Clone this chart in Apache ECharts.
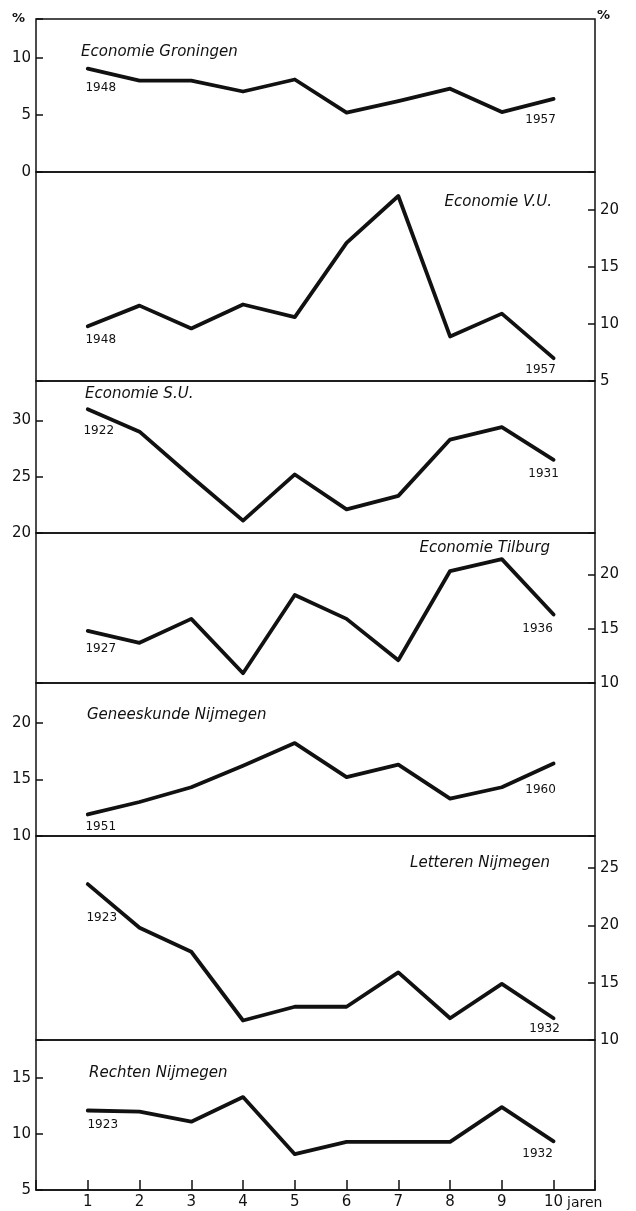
<!DOCTYPE html>
<html>
<head>
<meta charset="utf-8">
<title>Studieduur per faculteit</title>
<script src="https://cdn.jsdelivr.net/npm/echarts@6/dist/echarts.min.js"></script>
<style>
  html, body { margin: 0; padding: 0; background: #fff; }
  #chart { width: 636px; height: 1211px; }
</style>
</head>
<body>
<div id="chart"></div>
<script>
// x-as: jaren
const jaren = [1, 2, 3, 4, 5, 6, 7, 8, 9, 10]

const groningen = [9.05, 8.0, 8.0, 7.05, 8.1, 5.2, 6.2, 7.3, 5.25, 6.4]
const vu = [9.8, 11.6, 9.6, 11.7, 10.6, 17.1, 21.2, 8.9, 10.9, 7.0]
const su = [31.0, 29.0, 25.0, 21.1, 25.2, 22.1, 23.3, 28.3, 29.4, 26.5]
const tilburg = [14.8, 13.7, 15.9, 10.9, 18.1, 15.9, 12.1, 20.3, 21.4, 16.3]
const geneeskunde = [11.9, 13.0, 14.3, 16.2, 18.2, 15.2, 16.3, 13.3, 14.3, 16.4]
const letteren = [23.6, 19.8, 17.7, 11.7, 12.9, 12.9, 15.9, 11.9, 14.9, 11.9]
const rechten = [12.1, 12.0, 11.1, 13.3, 8.2, 9.3, 9.3, 9.3, 12.4, 9.35]

const namen = ['Economie Groningen', 'Economie V.U.', 'Economie S.U.', 'Economie Tilburg', 'Geneeskunde Nijmegen', 'Letteren Nijmegen', 'Rechten Nijmegen']
const beginjaar = ['1948', '1948', '1922', '1927', '1951', '1923', '1923']
const eindjaar = ['1957', '1957', '1931', '1936', '1960', '1932', '1932']

// y-as bereik per panel
const yMin = [0, 5, 20, 10, 10, 10, 5]
const yMax = [13.4, 23.3, 33.5, 23.8, 23.5, 27.8, 18.4]

const reeksen = [groningen, vu, su, tilburg, geneeskunde, letteren, rechten]

// layout
const panelTop = [19, 172, 381, 533, 683, 836, 1040, 1190]
const asZijde = ['left', 'right', 'left', 'right', 'left', 'right', 'left']
const titelPos = [
  { left: 81, top: 45 },
  { right: 84, top: 195 },
  { left: 85, top: 387 },
  { right: 86, top: 541 },
  { left: 87, top: 708 },
  { right: 86, top: 856 },
  { left: 89, top: 1066 },
]
const beginOffset = [[13, 7], [13, 2], [11, 10], [13, 6], [13, 0], [14, 22], [15, 2]]
const eindOffset = [[-13, 9], [-13, 0], [-10, 2], [-16, 2], [-13, 14], [-9, -1], [-16, 1]]

const font = 'DejaVu Sans'
const zwart = '#111'

const chart = echarts.init(document.getElementById('chart'))

const grids = [], xAxes = [], yAxes = [], series = [], titles = []

reeksen.forEach((waarden, p) => {
  const laatste = p === reeksen.length - 1
  grids.push({
    left: 36,
    right: 41,
    top: panelTop[p],
    height: panelTop[p + 1] - panelTop[p],
    show: true,
    borderColor: zwart,
    borderWidth: 1.5,
    outerBoundsMode: 'none',
  })
  xAxes.push({
    gridIndex: p,
    type: 'value',
    min: 0,
    max: 10.8,
    interval: 1,
    axisLine: { show: laatste, onZero: false, lineStyle: { color: zwart, width: 1.5 } },
    axisTick: { show: laatste, inside: true, length: 10, lineStyle: { color: zwart, width: 1.5 } },
    axisLabel: {
      show: laatste,
      margin: 5,
      fontSize: 15,
      fontFamily: font,
      color: zwart,
      formatter: v => (v >= 1 && v <= 10 && v % 1 === 0 ? String(v) : ''),
    },
    splitLine: { show: false },
    name: laatste ? 'jaren' : '',
    nameLocation: 'end',
    nameGap: -28,
    nameTextStyle: { fontSize: 14, fontFamily: font, color: zwart, align: 'left', verticalAlign: 'top', padding: [6, 0, 0, 0] },
  })
  yAxes.push({
    gridIndex: p,
    type: 'value',
    position: asZijde[p],
    min: yMin[p],
    max: yMax[p],
    interval: 5,
    axisLine: { show: false, onZero: false },
    axisTick: { show: true, inside: true, length: 7, lineStyle: { color: zwart, width: 1.5 } },
    axisLabel: {
      margin: 5,
      fontSize: 15,
      fontFamily: font,
      color: zwart,
      formatter: v => (v % 5 === 0 ? String(v) : ''),
    },
    splitLine: { show: false },
  })
  series.push({
    type: 'line',
    xAxisIndex: p,
    yAxisIndex: p,
    symbol: 'circle',
    symbolSize: 2,
    showSymbol: true,
    itemStyle: { color: zwart },
    lineStyle: { color: zwart, width: 3.8, cap: 'round', join: 'round' },
    label: { show: false, fontSize: 12, fontFamily: font, color: zwart },
    data: waarden.map((v, i) => {
      const item = { value: [jaren[i], v] }
      if (i === 0 || i === waarden.length - 1) {
        item.label = {
          show: true,
          position: 'bottom',
          offset: i === 0 ? beginOffset[p] : eindOffset[p],
          formatter: i === 0 ? beginjaar[p] : eindjaar[p],
        }
      }
      return item
    }),
  })
  titles.push(Object.assign({
    text: namen[p],
    padding: 0,
    textStyle: { fontSize: 15, fontStyle: 'italic', fontWeight: 'normal', fontFamily: font, color: zwart },
  }, titelPos[p]))
})

// procent-tekens boven de assen
titles.push({ text: '%', left: 12, top: 12, padding: 0, textStyle: { fontSize: 13, fontWeight: 'bold', fontFamily: font, color: zwart } })
titles.push({ text: '%', left: 597, top: 9, padding: 0, textStyle: { fontSize: 13, fontWeight: 'bold', fontFamily: font, color: zwart } })

chart.setOption({
  animation: false,
  backgroundColor: '#fff',
  title: titles,
  grid: grids,
  xAxis: xAxes,
  yAxis: yAxes,
  series: series,
})
</script>
</body>
</html>
